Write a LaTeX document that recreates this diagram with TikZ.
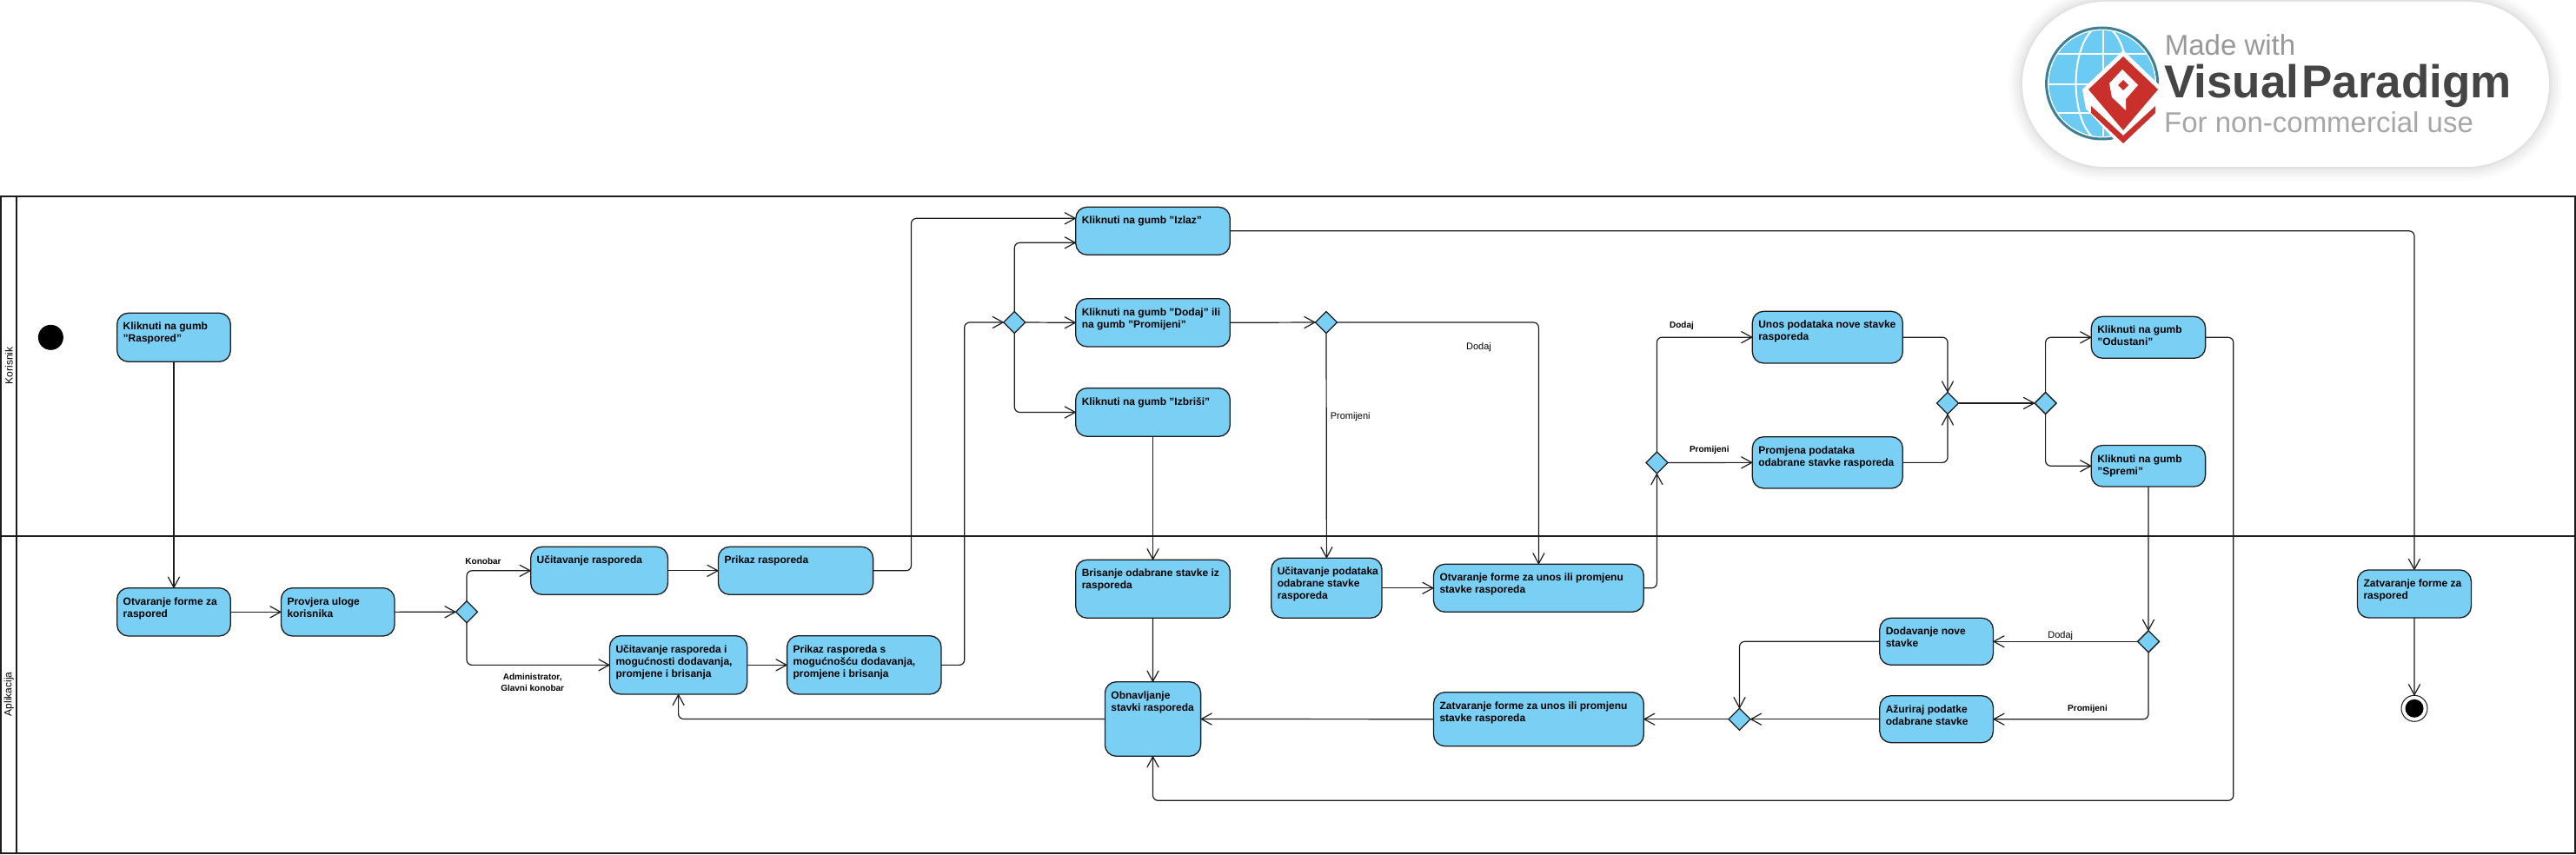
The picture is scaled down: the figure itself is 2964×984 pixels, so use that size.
\documentclass[tikz,border=0pt]{standalone}
\usepackage{fontspec}
\setmainfont{Liberation Sans}
\usetikzlibrary{arrows.meta,shapes.geometric}
\definecolor{actblue}{HTML}{7ACFF5}
\definecolor{inkline}{HTML}{1C1C1C}
\definecolor{vpred}{HTML}{C9302C}
\definecolor{vpteal}{HTML}{3F7F94}
\definecolor{vpblue}{HTML}{6CCBF2}
\tikzset{
  x=1pt,y=-1pt,
  actbox/.style={draw=inkline,fill=actblue,line width=1.3pt,rounded corners=13pt,inner xsep=7pt,inner ysep=0pt,outer sep=0pt},
  decis/.style={diamond,draw=inkline,fill=actblue,line width=1.3pt,minimum width=25pt,minimum height=25pt,inner sep=0pt,outer sep=0pt},
  flow/.style={draw=inkline,line width=1.2pt,rounded corners=6pt,-{Straight Barb[length=12pt,width=13pt,line width=1.2pt,round]}},
  lane/.style={draw=inkline,line width=2pt},
  lanelab/.style={rotate=90,font=\fontsize{12}{14}\selectfont,inner sep=0pt},
  guardb/.style={font=\bfseries\fontsize{10}{13}\selectfont,inner sep=0pt,align=center},
  guardr/.style={font=\fontsize{11}{13}\selectfont,inner sep=0pt,align=center},
  vptext/.style={inner sep=0pt,anchor=base west},
}
\newcommand{\actnode}[6]{%
  \pgfmathsetmacro{\acx}{(#2+#4)/2}\pgfmathsetmacro{\acy}{(#3+#5)/2}%
  \pgfmathsetmacro{\acw}{#4-#2-14}\pgfmathsetmacro{\ach}{#5-#3}%
  \node[actbox] (#1) at (\acx,\acy) {\parbox[c][\ach pt][t]{\acw pt}{\raggedright\bfseries\fontsize{12}{14}\selectfont\rule{0pt}{19.5pt}#6}};%
}
\begin{document}
\begin{tikzpicture}
\useasboundingbox (0,0) rectangle (2964,984);
% watermark
\foreach \g/\op in {16/0.012,13/0.015,10/0.018,7/0.02,4/0.025,2/0.03}{
  \fill[black,opacity=\op,rounded corners=95pt+\g pt] (2327-\g,2-\g) rectangle (2933+\g,192+\g);
}
\fill[white,rounded corners=95pt] (2327,2) rectangle (2933,192);
\fill[vpblue] (2418.6,96) circle (61pt);
\begin{scope}
  \clip (2418.6,96) circle (61pt);
  \draw[white,line width=2pt] (2420,30) -- (2420,160);
  \draw[white,line width=2pt] (2418.6,96) ellipse (30pt and 66pt);
  \draw[white,line width=2pt] (2350,62) -- (2490,62);
  \draw[white,line width=2pt] (2350,97) -- (2490,97);
  \draw[white,line width=2pt] (2350,130) -- (2490,130);
\end{scope}
\draw[vpteal,line width=3pt] (2418.6,96) circle (64pt);
\fill[white] (2443,58) -- (2490,103) -- (2484,135) -- (2443,172) -- (2400,125) -- (2396,103) -- cycle;
\fill[vpred] (2443,65) -- (2483,103) -- (2443,150) -- (2403,103) -- cycle;
\fill[vpred] (2406,122) -- (2443,156) -- (2480,122) -- (2480,130) -- (2443,165) -- (2406,130) -- cycle;
\fill[white] (2442,80) -- (2460,98) -- (2446,114) -- (2446,127) -- (2430,112) -- (2427,96) -- cycle;
\fill[vpred] (2443,92) -- (2449,98) -- (2443,104) -- (2437,98) -- cycle;
\node[vptext,text=black!40,font=\fontsize{33}{33}\selectfont] (vpa) at (2490.6,64) {Made with};
\node[vptext,text=black!73,font=\bfseries\fontsize{53}{52}\selectfont] (vpb) at (2490,112.5) {Visual\kern3pt Paradigm};
\node[vptext,text=black!35,font=\fontsize{33}{34}\selectfont] (vpc) at (2490,153) {For non-commercial use};
% swimlanes
\draw[lane] (1,226) rectangle (2963,982);
\draw[lane] (1,617) -- (2963,617);
\draw[lane] (19.4,226) -- (19.4,982);
\node[lanelab] (lk) at (10.3,420.7) {Korisnik};
\node[lanelab] (la) at (10.3,798.7) {Aplikacija};
% start
\node[circle,fill=black,minimum size=29pt,inner sep=0pt] (start) at (58.4,388.3) {};
% activities
\actnode{klrasp}{134.7}{360.3}{265.3}{416.3}{Kliknuti na gumb\\"Raspored"}
\actnode{otvf}{134.7}{676.7}{265.3}{732}{Otvaranje forme za\\raspored}
\actnode{prov}{323.5}{676.7}{454}{732}{Provjera uloge\\korisnika}
\node[decis] (d1) at (537,704.3) {};
\actnode{ucr}{610.7}{629.3}{768.4}{684.3}{Učitavanje rasporeda}
\actnode{prr}{826.5}{629.3}{1004.6}{684.3}{Prikaz rasporeda}
\actnode{ucm}{701.5}{731.7}{859.7}{799}{Učitavanje rasporeda i\\mogućnosti dodavanja,\\promjene i brisanja}
\actnode{prm}{905.6}{731.7}{1083}{799}{Prikaz rasporeda s\\mogućnošću dodavanja,\\promjene i brisanja}
\actnode{izlaz}{1237.8}{238.3}{1415.3}{293.3}{Kliknuti na gumb "Izlaz"}
\actnode{dodpr}{1237.8}{343.7}{1415.3}{399}{Kliknuti na gumb "Dodaj" ili\\na gumb "Promijeni"}
\actnode{izbr}{1237.8}{446.7}{1415.3}{502.3}{Kliknuti na gumb "Izbriši"}
\node[decis] (d2) at (1167.3,371) {};
\node[decis] (d3) at (1526,371) {};
\actnode{bris}{1237.8}{644.3}{1415.3}{711.3}{Brisanje odabrane stavke iz\\rasporeda}
\actnode{obn}{1271.4}{784.7}{1381.6}{870.3}{Obnavljanje\\\makebox[0pt][l]{stavki rasporeda}}
\actnode{ucp}{1462.8}{642.3}{1590}{711.3}{\makebox[0pt][l]{Učitavanje podataka}\\odabrane stavke\\rasporeda}
\actnode{otvu}{1649.5}{649.3}{1891.3}{704.3}{\makebox[0pt][l]{Otvaranje forme za unos ili promjenu}\\stavke rasporeda}
\node[decis] (d4) at (1906.4,532.5) {};
\actnode{unos}{2016.3}{358.3}{2189.3}{418}{\makebox[0pt][l]{Unos podataka nove stavke}\\rasporeda}
\actnode{prmj}{2016.3}{502.7}{2189.3}{562}{Promjena podataka\\\makebox[0pt][l]{odabrane stavke rasporeda}}
\node[decis] (d5) at (2241,464) {};
\node[decis] (d6) at (2353.6,464) {};
\actnode{odus}{2406.3}{364.3}{2537.6}{412.3}{Kliknuti na gumb\\"Odustani"}
\actnode{spre}{2406.3}{512.5}{2537.6}{560}{Kliknuti na gumb\\"Spremi"}
\node[decis] (d7) at (2472,738.3) {};
\actnode{dodn}{2162.8}{711.3}{2293.4}{765.3}{Dodavanje nove\\stavke}
\actnode{azur}{2162.8}{800.7}{2293.4}{854.7}{Ažuriraj podatke\\odabrane stavke}
\node[decis] (d8) at (2001.5,827.7) {};
\actnode{zatu}{1649.5}{796.7}{1891.3}{858.7}{\makebox[0pt][l]{Zatvaranje forme za unos ili promjenu}\\stavke rasporeda}
\actnode{zatr}{2712.5}{655.9}{2843.4}{711}{\makebox[0pt][l]{Zatvaranje forme za}\\raspored}
\node[circle,draw=inkline,fill=white,line width=1pt,minimum size=30pt,inner sep=0pt,outer sep=0pt] (fin) at (2778,815.3) {};
\node[circle,fill=black,minimum size=21pt,inner sep=0pt] (fini) at (fin.center) {};
% route points
\coordinate (r1) at (1048.5,251.3);
\coordinate (r2) at (1109.7,371);
\coordinate (r3) at (2569.8,921.3);
% connectors
\draw[flow] (klrasp.south) -- (otvf.north);
\draw[flow] (otvf.east) -- (prov.west);
\draw[flow] (prov.east) -- (d1.west);
\draw[flow] (d1.north) |- (ucr.west);
\draw[flow] (d1.south) |- (ucm.west);
\draw[flow] (ucr.east) -- (prr.west);
\draw[flow] (ucm.east) -- (prm.west);
\draw[flow] (prr.east) -| (r1) -- ([yshift=14.5pt]izlaz.west);
\draw[flow] (prm.east) -| (r2) -- (d2.west);
\draw[flow] (d2.north) |- ([yshift=-13.5pt]izlaz.west);
\draw[flow] (d2.east) -- (dodpr.west);
\draw[flow] (d2.south) |- (izbr.west);
\draw[flow] (dodpr.east) -- (d3.west);
\draw[flow] (d3.south) -- (ucp.north);
\draw[flow] (d3.east) -| (otvu.north);
\draw[flow] (izbr.south) -- (bris.north);
\draw[flow] (bris.south) -- (obn.north);
\draw[flow] (obn.west) -| (ucm.south);
\draw[flow] (ucp.east) -- (otvu.west);
\draw[flow] (otvu.east) -| (d4.south);
\draw[flow] (d4.north) |- (unos.west);
\draw[flow] (d4.east) -- (prmj.west);
\draw[flow] (unos.east) -| (d5.north);
\draw[flow] (prmj.east) -| (d5.south);
\draw[flow] (d5.east) -- (d6.west);
\draw[flow] (d6.north) |- (odus.west);
\draw[flow] (d6.south) |- (spre.west);
\draw[flow] (spre.south) -- (d7.north);
\draw[flow] (d7.west) -- (dodn.east);
\draw[flow] (d7.south) |- (azur.east);
\draw[flow] (dodn.west) -| (d8.north);
\draw[flow] (azur.west) -- (d8.east);
\draw[flow] (d8.west) -- (zatu.east);
\draw[flow] (zatu.west) -- (obn.east);
\draw[flow] (odus.east) -| (r3) -| (obn.south);
\draw[flow] (izlaz.east) -| (zatr.north);
\draw[flow] (zatr.south) -- (fin.north);
% guards
\node[guardb] (g1) at (556,646) {Konobar};
\node[guardb] (g2) at (612.7,785) {Administrator,\\Glavni konobar};
\node[guardr,anchor=west] (g3) at (1530.6,479.3) {Promijeni};
\node[guardr] (g4) at (1701.5,400) {Dodaj};
\node[guardb] (g5) at (1935,375) {Dodaj};
\node[guardb] (g6) at (1966.8,518.3) {Promijeni};
\node[guardr] (g7) at (2370.7,731.3) {Dodaj};
\node[guardb] (g8) at (2402,816) {Promijeni};
\end{tikzpicture}
\end{document}
